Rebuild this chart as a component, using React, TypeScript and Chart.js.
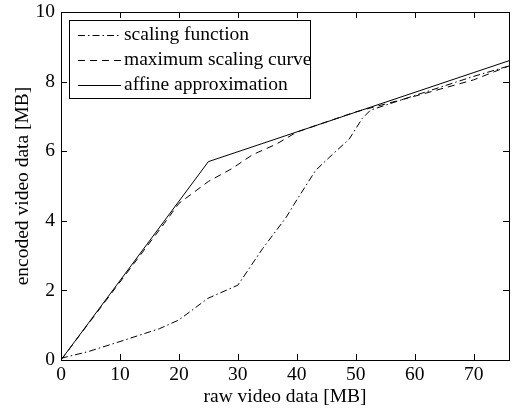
import React, { useEffect, useRef } from "react";
import { Chart, registerables } from "chart.js";

Chart.register(...registerables);

const scalingX = [0, 4.6, 10, 16.7, 20, 24.9, 30, 34.2, 38.2, 40, 43.2, 46, 48.9, 51.1, 52.5, 60, 70, 76];
const scalingY = [0.05, 0.24, 0.53, 0.9, 1.15, 1.77, 2.15, 3.2, 4.1, 4.6, 5.45, 5.9, 6.35, 6.94, 7.18, 7.6, 8.15, 8.45];

const maxX = [0, 17.5, 20, 25, 29, 32.5, 36.5, 40, 50, 60, 70, 76];
const maxY = [0, 3.92, 4.5, 5.13, 5.5, 5.9, 6.2, 6.55, 7.13, 7.58, 8.05, 8.45];

const affineX = [0, 25, 76];
const affineY = [0, 5.7, 8.6];

const xTicks = [0, 10, 20, 30, 40, 50, 60, 70];
const yTicks = [0, 2, 4, 6, 8, 10];

const seriesLabels = ["scaling function", "maximum scaling curve", "affine approximation"];
const xTitle = "raw video data [MB]";
const yTitle = "encoded video data [MB]";

const FONT = "'Liberation Serif', 'Times New Roman', serif";
const FS = 19.5;
const DASHES: number[][] = [[7, 3, 1.5, 3], [7, 5], []];

const toPts = (xs: number[], ys: number[]) => xs.map((x, i) => ({ x, y: ys[i] }));

const frameAndTicks = {
  id: "frameAndTicks",
  afterDraw(chart: any) {
    const { ctx, chartArea: a, scales } = chart;
    ctx.save();
    ctx.strokeStyle = "#000";
    ctx.lineWidth = 1;
    ctx.setLineDash([]);
    ctx.strokeRect(Math.round(a.left) + 0.5, Math.round(a.top) + 0.5, Math.round(a.right - a.left), Math.round(a.bottom - a.top));
    const tl = 6;
    ctx.beginPath();
    xTicks.forEach((v) => {
      const px = Math.round(scales.x.getPixelForValue(v)) + 0.5;
      ctx.moveTo(px, a.bottom);
      ctx.lineTo(px, a.bottom - tl);
      ctx.moveTo(px, a.top);
      ctx.lineTo(px, a.top + tl);
    });
    yTicks.forEach((v) => {
      const py = Math.round(scales.y.getPixelForValue(v)) + 0.5;
      ctx.moveTo(a.left, py);
      ctx.lineTo(a.left + tl, py);
      ctx.moveTo(a.right, py);
      ctx.lineTo(a.right - tl, py);
    });
    ctx.stroke();

    // legend
    const lx = 69, ly = 20, lw = 241, lh = 78;
    ctx.fillStyle = "#fff";
    ctx.fillRect(lx, ly, lw, lh);
    ctx.strokeRect(lx + 0.5, ly + 0.5, lw, lh);
    ctx.font = `${FS}px ${FONT}`;
    ctx.fillStyle = "#000";
    ctx.textBaseline = "middle";
    seriesLabels.forEach((t, i) => {
      const y = ly + 15 + i * 25;
      ctx.beginPath();
      ctx.setLineDash(DASHES[i]);
      ctx.moveTo(78, y + 0.5);
      ctx.lineTo(121, y + 0.5);
      ctx.stroke();
      ctx.setLineDash([]);
      ctx.fillText(t, 124, y);
    });
    ctx.restore();
  },
};

export default function App() {
  const ref = useRef<HTMLCanvasElement>(null);
  useEffect(() => {
    document.body.style.margin = "0";
    const ds = [
      toPts(scalingX, scalingY),
      toPts(maxX, maxY),
      toPts(affineX, affineY),
    ].map((data, i) => ({
      label: seriesLabels[i],
      data,
      borderColor: "#000",
      borderWidth: 1,
      borderDash: DASHES[i],
      pointRadius: 0,
      fill: false,
      tension: 0,
    }));
    const chart = new Chart(ref.current!, {
      type: "line",
      data: { datasets: ds },
      plugins: [frameAndTicks],
      options: {
        animation: false,
        responsive: false,
        devicePixelRatio: 1,
        layout: { padding: { top: 12, right: 20, left: 0, bottom: 0 } },
        plugins: { legend: { display: false }, tooltip: { enabled: false } },
        scales: {
          x: {
            type: "linear",
            min: 0,
            max: 76,
            afterBuildTicks: (s: any) => { s.ticks = xTicks.map((v) => ({ value: v })); },
            afterFit: (s: any) => { s.height = 50; s.paddingLeft = 0; s.paddingRight = 0; },
            grid: { display: false, drawTicks: false },
            border: { display: false },
            ticks: { color: "#000", padding: 3, font: { family: FONT, size: FS }, maxRotation: 0 },
            title: { display: true, text: xTitle, color: "#000", font: { family: FONT, size: FS }, padding: { top: 0, bottom: 1 } },
          },
          y: {
            type: "linear",
            min: 0,
            max: 10,
            afterBuildTicks: (s: any) => { s.ticks = yTicks.map((v) => ({ value: v })); },
            afterFit: (s: any) => { s.width = 61; s.paddingTop = 0; s.paddingBottom = 0; },
            grid: { display: false, drawTicks: false },
            border: { display: false },
            ticks: { color: "#000", padding: 6, font: { family: FONT, size: FS } },
            title: { display: true, text: yTitle, color: "#000", font: { family: FONT, size: FS }, padding: { top: 11, bottom: 0 } },
          },
        },
      },
    } as any);
    return () => chart.destroy();
  }, []);
  return (
    <div style={{ width: 529, height: 410, background: "#fff" }}>
      <canvas ref={ref} width={529} height={410} />
    </div>
  );
}
